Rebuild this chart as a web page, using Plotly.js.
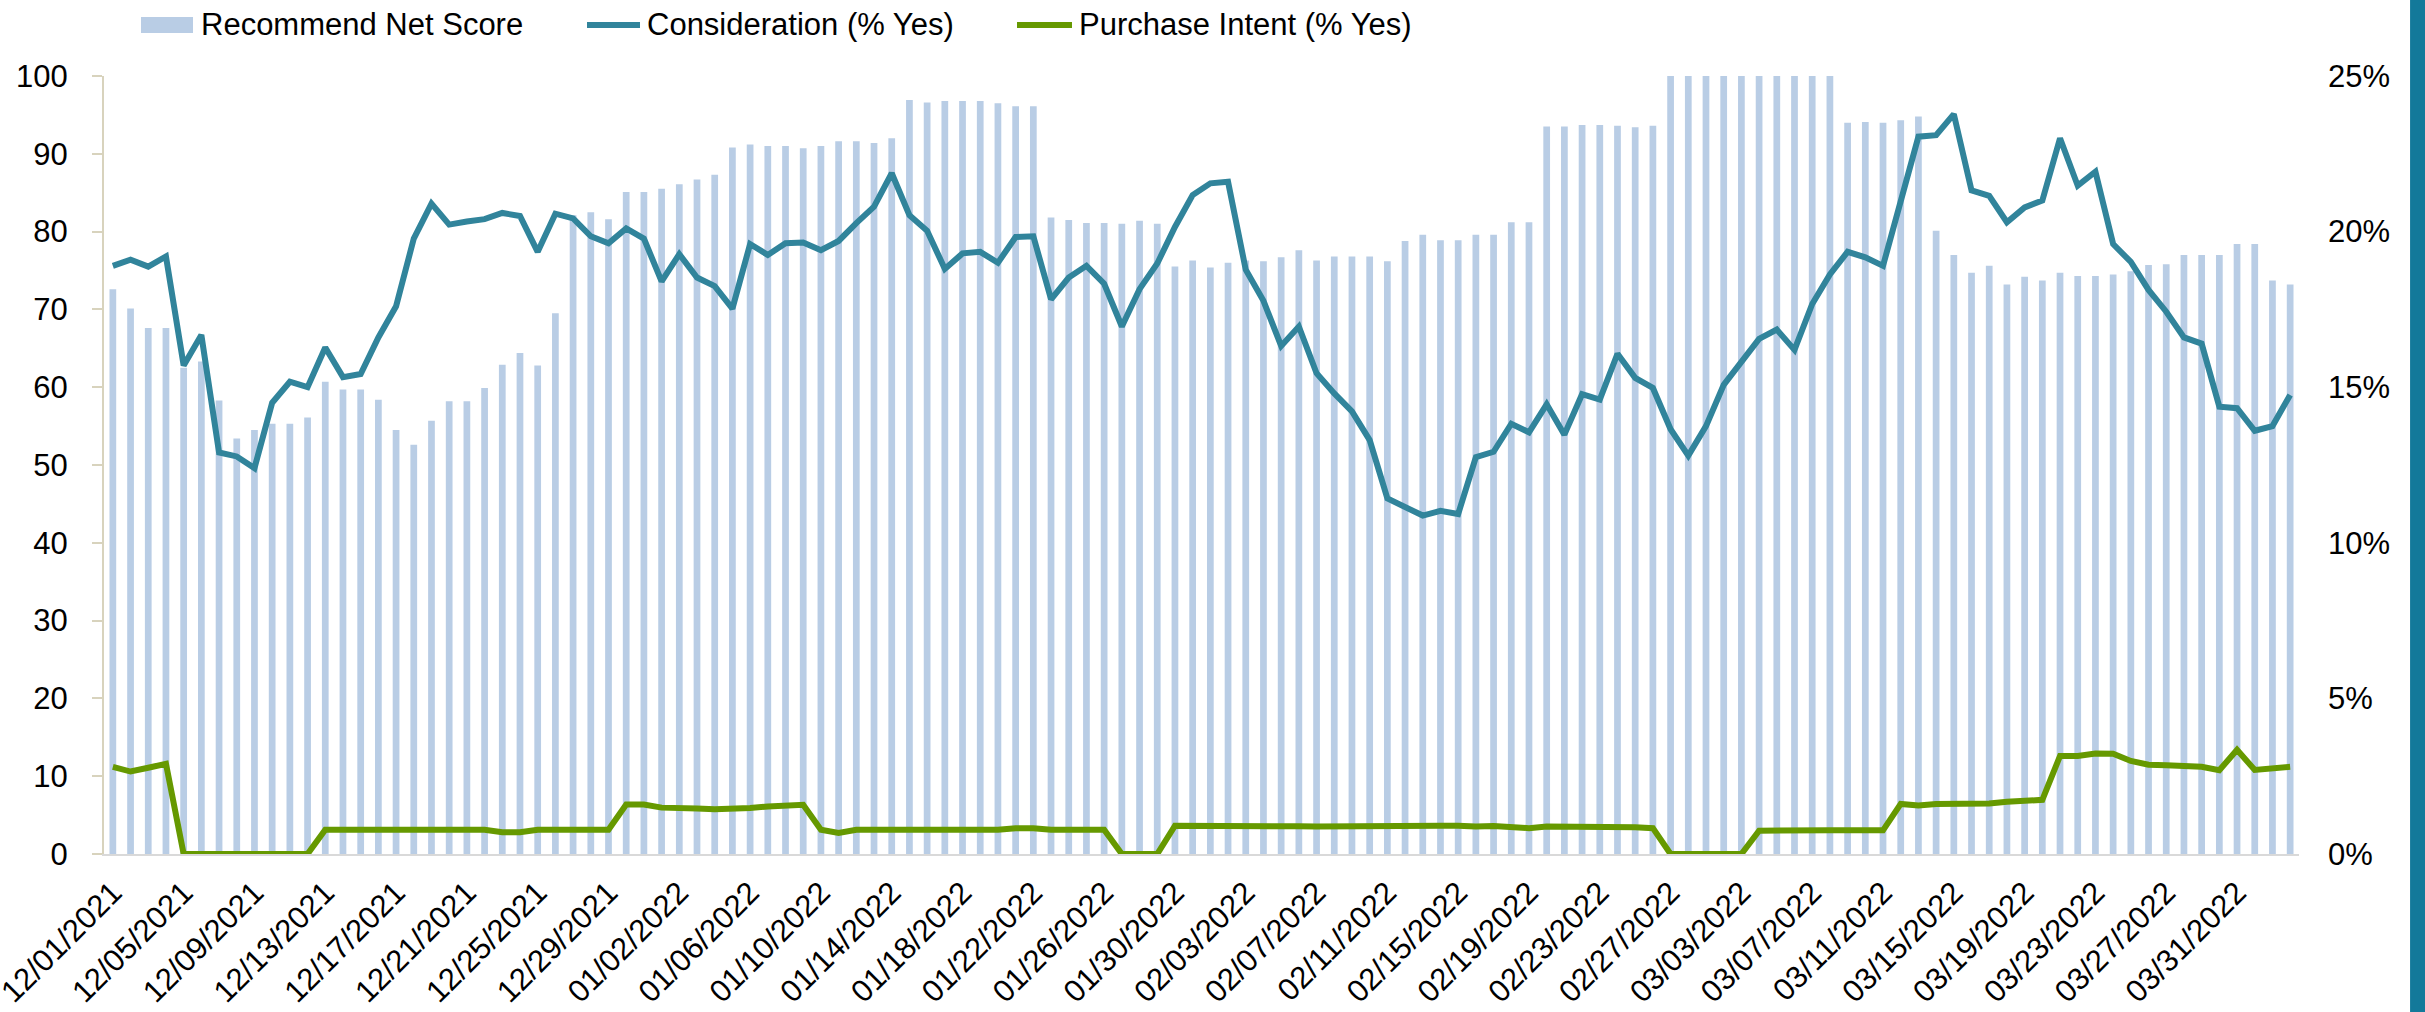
<!DOCTYPE html>
<html>
<head>
<meta charset="utf-8">
<script src="https://cdn.plot.ly/plotly-3.0.1.min.js"></script>
<style>html,body{margin:0;padding:0;background:#fff;}#chart{width:2425px;height:1012px;}</style>
</head>
<body>
<div id="chart"></div>
<script>
// ---- Data ----
const dates = [
"12/01/2021","12/02/2021","12/03/2021","12/04/2021","12/05/2021","12/06/2021","12/07/2021","12/08/2021","12/09/2021","12/10/2021",
"12/11/2021","12/12/2021","12/13/2021","12/14/2021","12/15/2021","12/16/2021","12/17/2021","12/18/2021","12/19/2021","12/20/2021",
"12/21/2021","12/22/2021","12/23/2021","12/24/2021","12/25/2021","12/26/2021","12/27/2021","12/28/2021","12/29/2021","12/30/2021",
"12/31/2021","01/01/2022","01/02/2022","01/03/2022","01/04/2022","01/05/2022","01/06/2022","01/07/2022","01/08/2022","01/09/2022",
"01/10/2022","01/11/2022","01/12/2022","01/13/2022","01/14/2022","01/15/2022","01/16/2022","01/17/2022","01/18/2022","01/19/2022",
"01/20/2022","01/21/2022","01/22/2022","01/23/2022","01/24/2022","01/25/2022","01/26/2022","01/27/2022","01/28/2022","01/29/2022",
"01/30/2022","01/31/2022","02/01/2022","02/02/2022","02/03/2022","02/04/2022","02/05/2022","02/06/2022","02/07/2022","02/08/2022",
"02/09/2022","02/10/2022","02/11/2022","02/12/2022","02/13/2022","02/14/2022","02/15/2022","02/16/2022","02/17/2022","02/18/2022",
"02/19/2022","02/20/2022","02/21/2022","02/22/2022","02/23/2022","02/24/2022","02/25/2022","02/26/2022","02/27/2022","02/28/2022",
"03/01/2022","03/02/2022","03/03/2022","03/04/2022","03/05/2022","03/06/2022","03/07/2022","03/08/2022","03/09/2022","03/10/2022",
"03/11/2022","03/12/2022","03/13/2022","03/14/2022","03/15/2022","03/16/2022","03/17/2022","03/18/2022","03/19/2022","03/20/2022",
"03/21/2022","03/22/2022","03/23/2022","03/24/2022","03/25/2022","03/26/2022","03/27/2022","03/28/2022","03/29/2022","03/30/2022",
"03/31/2022","04/01/2022","04/02/2022","04/03/2022"
];

const tickLabels = [
"12/01/2021","12/05/2021","12/09/2021","12/13/2021","12/17/2021","12/21/2021","12/25/2021","12/29/2021",
"01/02/2022","01/06/2022","01/10/2022","01/14/2022","01/18/2022","01/22/2022","01/26/2022","01/30/2022",
"02/03/2022","02/07/2022","02/11/2022","02/15/2022","02/19/2022","02/23/2022","02/27/2022",
"03/03/2022","03/07/2022","03/11/2022","03/15/2022","03/19/2022","03/23/2022","03/27/2022","03/31/2022"
];

const recommendNetScore = [
72.6,70.1,67.6,67.6,62.5,63.3,58.3,53.4,54.5,55.3,
55.3,56.1,60.7,59.7,59.7,58.4,54.5,52.6,55.7,58.2,
58.2,59.9,62.9,64.4,62.8,69.5,82.1,82.5,81.6,85.1,
85.1,85.5,86.1,86.7,87.3,90.8,91.2,91.0,91.0,90.7,
91.0,91.6,91.6,91.4,92.0,96.9,96.6,96.8,96.8,96.8,
96.5,96.1,96.1,81.8,81.5,81.1,81.1,81.0,81.4,81.0,
75.5,76.3,75.4,76.0,76.3,76.2,76.7,77.6,76.3,76.8,
76.8,76.8,76.2,78.8,79.6,78.9,78.9,79.6,79.6,81.2,
81.2,93.5,93.5,93.7,93.7,93.6,93.4,93.6,100,100,
100,100,100,100,100,100,100,100,94.0,94.1,
94.0,94.3,94.8,80.1,77.0,74.7,75.6,73.2,74.2,73.7,
74.7,74.3,74.3,74.5,74.9,75.7,75.8,77.0,77.0,77.0,
78.4,78.4,73.7,73.2
];

const considerationPct = [
75.6,76.4,75.5,76.8,62.8,66.7,51.6,51.1,49.6,58.0,
60.7,60.0,65.1,61.3,61.7,66.4,70.4,79.1,83.6,80.9,
81.3,81.6,82.4,82.0,77.4,82.3,81.7,79.4,78.5,80.4,
79.1,73.6,77.1,74.1,73.0,70.1,78.4,77.0,78.5,78.6,
77.6,78.8,81.1,83.2,87.5,82.1,80.1,75.2,77.2,77.4,
76.0,79.3,79.4,71.3,74.1,75.6,73.3,67.8,72.6,75.9,
80.6,84.7,86.2,86.4,75.1,71.1,65.3,67.8,61.8,59.2,
56.9,53.2,45.7,44.6,43.5,44.1,43.7,51.0,51.7,55.3,
54.2,57.8,53.9,59.1,58.4,64.3,61.2,59.9,54.6,51.2,
55.0,60.3,63.2,66.2,67.4,64.8,70.7,74.5,77.4,76.7,
75.6,84.1,92.2,92.4,95.1,85.3,84.6,81.2,83.1,84.0,
92.0,85.9,87.7,78.4,76.1,72.5,69.7,66.4,65.6,57.5,
57.3,54.4,55.0,59.0
];

const purchaseIntentPct = [
2.80,2.65,2.77,2.90,0,0,0,0,0,0,
0,0,0.78,0.78,0.78,0.78,0.78,0.78,0.78,0.78,
0.78,0.78,0.70,0.70,0.78,0.78,0.78,0.78,0.78,1.59,
1.59,1.49,1.49,1.46,1.44,1.44,1.48,1.53,1.57,1.58,
0.78,0.68,0.78,0.78,0.78,0.78,0.78,0.76,0.78,0.78,
0.78,0.83,0.83,0.78,0.79,0.80,0.78,0,0,0,
0.91,0.91,0.93,0.90,0.90,0.89,0.89,0.89,0.88,0.89,
0.89,0.89,0.88,0.93,0.91,0.91,0.91,0.88,0.90,0.86,
0.83,0.88,0.88,0.88,0.87,0.86,0.86,0.83,0,0,
0,0,0,0.75,0.76,0.78,0.77,0.76,0.76,0.74,
0.76,1.61,1.56,1.61,1.61,1.62,1.62,1.68,1.71,1.74,
3.15,3.15,3.23,3.22,2.99,2.87,2.85,2.82,2.80,2.69,
3.35,2.70,2.75,2.80
];

const leftTicks = [0,10,20,30,40,50,60,70,80,90,100];
const rightTicks = [0,5,10,15,20,25];
const rightTickLabels = ["0%","5%","10%","15%","20%","25%"];

// ---- Styles ----
const FONT = "'Liberation Sans', Arial, sans-serif";
const C_BAR = '#B9CDE5';
const C_CONS = '#31849B';
const C_PURCH = '#669900';

const traces = [
  {type:'bar', name:'Recommend Net Score', x:dates, y:recommendNetScore,
   marker:{color:C_BAR, line:{width:0}}, yaxis:'y', hoverinfo:'skip'},
  {type:'scatter', mode:'lines', name:'Consideration (% Yes)', x:dates, y:considerationPct,
   line:{color:C_CONS, width:6}, yaxis:'y', hoverinfo:'skip'},
  {type:'scatter', mode:'lines', name:'Purchase Intent (% Yes)', x:dates, y:purchaseIntentPct,
   line:{color:C_PURCH, width:6}, yaxis:'y2', hoverinfo:'skip'}
];

const legY = 1.0656;
const layout = {
  width:2425, height:1012,
  margin:{l:104, r:126, t:76, b:158, pad:0},
  paper_bgcolor:'#ffffff', plot_bgcolor:'#ffffff',
  showlegend:false,
  bargap:0.62,
  font:{family:FONT, size:31, color:'#000000'},
  xaxis:{type:'category', range:[-0.5, dates.length-0.5], tickvals:tickLabels, ticktext:tickLabels,
         tickangle:-45, showline:true, linecolor:'#D9D9D9', linewidth:2, ticks:'',
         showgrid:false, zeroline:false, tickfont:{family:FONT, size:31, color:'#000'}, ticklabelstandoff:6},
  yaxis:{range:[0,100], tickvals:leftTicks, showline:true, linecolor:'#D8D3BD', linewidth:2,
         ticks:'outside', ticklen:10, tickwidth:2, tickcolor:'#D8D3BD', showgrid:false, zeroline:false,
         tickfont:{family:FONT, size:31, color:'#000'}, ticklabelstandoff:18},
  yaxis2:{overlaying:'y', side:'right', range:[0,25], tickvals:rightTicks, ticktext:rightTickLabels,
          showgrid:false, zeroline:false, showline:false, ticks:'',
          tickfont:{family:FONT, size:31, color:'#000'}, ticklabelstandoff:28},
  shapes:[
    {type:'rect', xref:'paper', yref:'paper', x0:0.01686, x1:0.04055, y0:1.0553, y1:1.0758,
     fillcolor:C_BAR, line:{width:0}},
    {type:'line', xref:'paper', yref:'paper', x0:0.22005, x1:0.24419, y0:legY, y1:legY,
     line:{color:C_CONS, width:6}},
    {type:'line', xref:'paper', yref:'paper', x0:0.41595, x1:0.44100, y0:legY, y1:legY,
     line:{color:C_PURCH, width:6}},
    {type:'rect', xref:'paper', yref:'paper', x0:1.0506, x1:1.07, y0:-0.3, y1:1.2,
     fillcolor:'#13799A', line:{width:0}}
  ],
  annotations:[
    {xref:'paper', yref:'paper', x:0.04328, y:legY, xanchor:'left', yanchor:'middle', showarrow:false,
     text:'Recommend Net Score', font:{family:FONT, size:31, color:'#000'}},
    {xref:'paper', yref:'paper', x:0.24647, y:legY, xanchor:'left', yanchor:'middle', showarrow:false,
     text:'Consideration (% Yes)', font:{family:FONT, size:31, color:'#000'}},
    {xref:'paper', yref:'paper', x:0.44328, y:legY, xanchor:'left', yanchor:'middle', showarrow:false,
     text:'Purchase Intent (% Yes)', font:{family:FONT, size:31, color:'#000'}}
  ]
};

Plotly.newPlot('chart', traces, layout, {displayModeBar:false, staticPlot:true});
</script>
</body>
</html>
